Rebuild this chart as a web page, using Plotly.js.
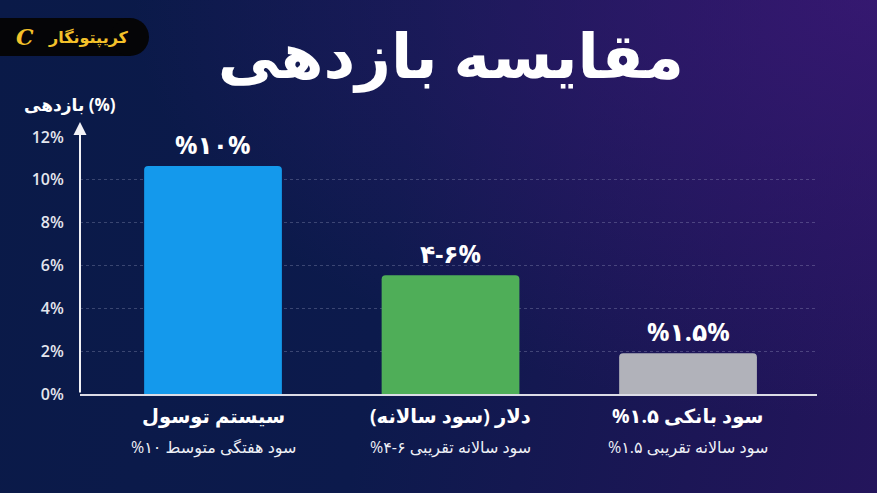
<!DOCTYPE html>
<html>
<head>
<meta charset="utf-8">
<script src="https://cdn.plot.ly/plotly-3.0.1.min.js"></script>
<style>
html,body{margin:0;padding:0;width:877px;height:493px;overflow:hidden;}
body{background:
 radial-gradient(ellipse at 100% 0%, rgba(60,25,120,0.75) 0%, rgba(60,25,120,0) 60%),
 linear-gradient(100deg,#0a1a48 0%,#0c1a4c 45%,#1c1656 80%,#24155c 100%);}
#chart{width:877px;height:493px;}
</style>
</head>
<body>
<div id="chart"></div>
<script>
// ---- data ----
const categories = ["سیستم توسول", "دلار (سود سالانه)", "سود بانکی ۱.۵%"];
const subtitles = ["سود هفتگی متوسط ۱۰%", "سود سالانه تقریبی \u202A۴-۶\u202C%", "سود سالانه تقریبی ۱.۵%"];
const values = [10.65, 5.55, 1.9];
const valueLabels = ["%۱۰%", "۴-۶%", "%۱.۵%"];
const barColors = ["#1499ec", "#4fae58", "#b1b2ba"];
const yTicks = [0, 2, 4, 6, 8, 10, 12];
const yTickText = ["0%", "2%", "4%", "6%", "8%", "10%", "12%"];
const titleText = "مقایسه بازدهی";
const yTitle = "بازدهی (%)";
const brand = "کریپتونگار";

const RTL = s => "\u202B" + s + "\u202C";
const FONT = "Open Sans, DejaVu Sans, sans-serif";

// geometry helpers (pixel -> paper), margins below
const M = {l: 80, r: 60, t: 137, b: 99};
const W = 877, H = 493;
const pw = W - M.l - M.r, ph = H - M.t - M.b;
const px = x => (x - M.l) / pw;
const py = y => (H - M.b - y) / ph;

const trace = {
  type: "bar",
  x: categories,
  y: values,
  width: 0.58,
  marker: {color: barColors, cornerradius: 4, line: {width: 0}},
  hoverinfo: "skip"
};

const annotations = [];
categories.forEach((c, i) => {
  annotations.push({x: c, xref: "x", y: values[i], yref: "y", yanchor: "middle", yshift: 22,
    text: valueLabels[i], showarrow: false,
    font: {family: FONT, size: 25, color: "#ffffff", weight: "bold"}});
  annotations.push({x: c, xref: "x", y: py(415), yref: "paper", yanchor: "middle",
    text: RTL(c), showarrow: false,
    font: {family: FONT, size: 19.5, color: "#ffffff", weight: "bold"}});
  annotations.push({x: c, xref: "x", y: py(447), yref: "paper", yanchor: "middle",
    text: RTL(subtitles[i]), showarrow: false,
    font: {family: FONT, size: 16, color: "#eef0f6"}});
});
// y axis arrow
annotations.push({x: 0, xref: "paper", y: 12.7, yref: "y", ax: 0, axref: "pixel", ay: 0, ayref: "y",
  text: "", showarrow: true, arrowhead: 2, arrowsize: 1.3, arrowwidth: 2, arrowcolor: "#f2f2f6"});
// y axis title
annotations.push({x: px(70), xref: "paper", y: py(104), yref: "paper", xanchor: "center", yanchor: "middle",
  text: yTitle, showarrow: false, font: {family: FONT, size: 17, color: "#ffffff", weight: "bold"}});
// brand logo text
annotations.push({x: px(88), xref: "paper", y: py(37), yref: "paper", xanchor: "center", yanchor: "middle",
  text: RTL(brand), showarrow: false, font: {family: FONT, size: 16, color: "#f3c12a", weight: "bold"}});
annotations.push({x: px(25), xref: "paper", y: py(37), yref: "paper", xanchor: "center", yanchor: "middle",
  text: "<i>C</i>", showarrow: false, font: {family: "DejaVu Serif, serif", size: 22, color: "#f3c12a", weight: "bold"}});

const shapes = [
  {type: "rect", xref: "paper", yref: "paper", x0: px(0), x1: px(130), y0: py(56), y1: py(18),
   fillcolor: "#050507", line: {width: 0}, layer: "above"},
  {type: "circle", xref: "paper", yref: "paper", x0: px(111), x1: px(149), y0: py(56), y1: py(18),
   fillcolor: "#050507", line: {width: 0}, layer: "above"}
];

const layout = {
  width: W, height: H,
  margin: M,
  paper_bgcolor: "rgba(0,0,0,0)",
  plot_bgcolor: "rgba(0,0,0,0)",
  showlegend: false,
  title: {text: titleText, x: 0.514, xref: "container", xanchor: "center", y: 1 - 56/493, yref: "container", yanchor: "middle",
    font: {family: FONT, size: 62, color: "#ffffff", weight: "bold"}},
  xaxis: {type: "category", range: [-0.56, 2.543], showticklabels: false, ticks: "",
    showline: true, linecolor: "#dcdce6", linewidth: 2, showgrid: false, zeroline: false, fixedrange: true},
  yaxis: {range: [0, 12], tickmode: "array", tickvals: yTicks, ticktext: yTickText, ticks: "outside", ticklen: 12, tickcolor: "rgba(0,0,0,0)",
    tickfont: {family: FONT, size: 16, color: "#e4e6ee", weight: 600},
    showgrid: true, gridcolor: "rgba(200,205,230,0.25)", griddash: "3px,3px", gridwidth: 1,
    showline: false, zeroline: false, fixedrange: true},
  annotations: annotations,
  shapes: shapes
};

Plotly.newPlot("chart", [trace], layout, {displayModeBar: false, staticPlot: true});
</script>
</body>
</html>
